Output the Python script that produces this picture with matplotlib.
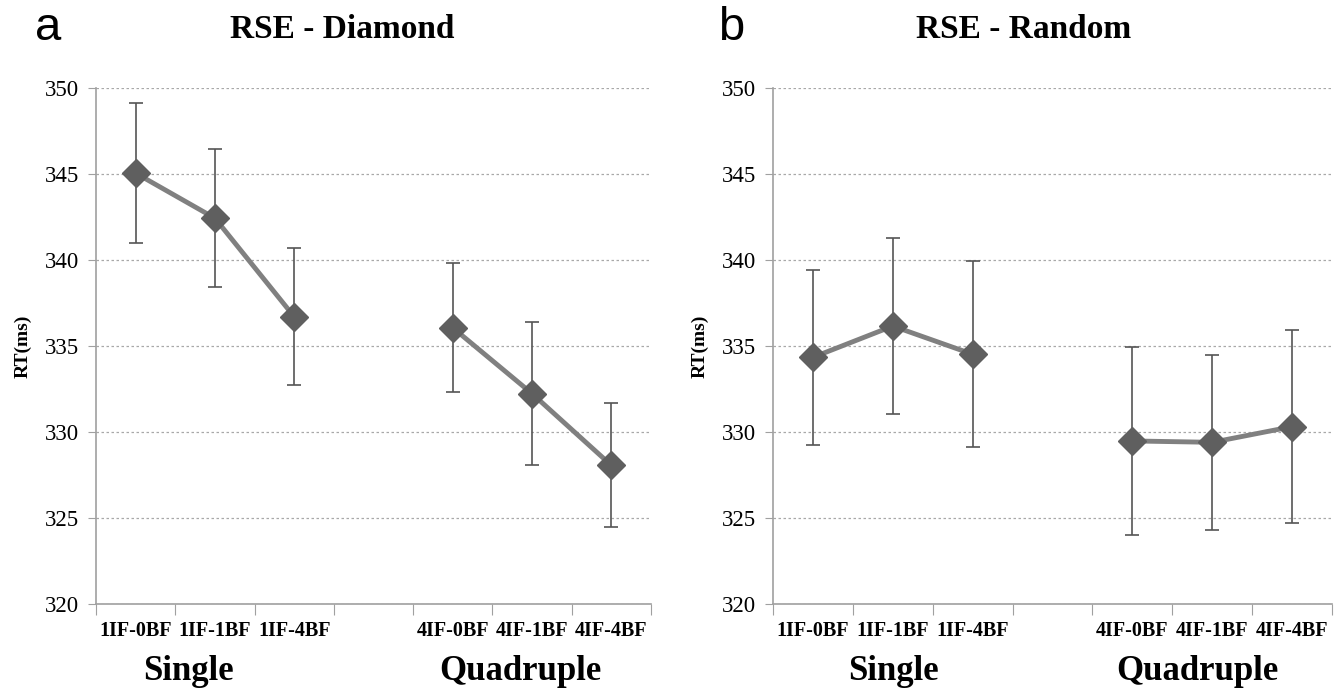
import matplotlib
matplotlib.use("Agg")
import matplotlib.pyplot as plt

# conditions and group labels
conditions_single = ["1IF-0BF", "1IF-1BF", "1IF-4BF"]
conditions_quad = ["4IF-0BF", "4IF-1BF", "4IF-4BF"]
groups = ["Single", "Quadruple"]

# RT means and error half-widths (ms)
diamond_rt = [345.05, 342.43, 336.7, 336.06, 332.23, 328.06]
diamond_err = [4.05, 4.0, 3.97, 3.75, 4.15, 3.6]
random_rt = [334.34, 336.16, 334.52, 329.48, 329.40, 330.31]
random_err = [5.1, 5.1, 5.4, 5.45, 5.1, 5.6]

titles = ["RSE - Diamond", "RSE - Random"]
panel_letters = ["a", "b"]
yticks = [320, 325, 330, 335, 340, 345, 350]

SERIF = ["Liberation Serif", "DejaVu Serif"]
SANS = ["Liberation Sans Narrow", "Liberation Sans", "DejaVu Sans"]

W, H = 1341, 696
fig = plt.figure(figsize=(W / 100, H / 100), dpi=100)

panels = [
    dict(left=96, right=651, rt=diamond_rt, err=diamond_err, title_x=342,
         letter_x=48, group_x=[188, 520]),
    dict(left=773, right=1332, rt=random_rt, err=random_err, title_x=1024,
         letter_x=731, group_x=[893, 1197]),
]

# slot positions: three conditions, one empty slot, three conditions
xs = [0.5, 1.5, 2.5, 4.5, 5.5, 6.5]
labels = conditions_single + conditions_quad

for i, p in enumerate(panels):
    ax = fig.add_axes([p["left"] / W, 1 - 604 / H, (p["right"] - p["left"]) / W, (604 - 88) / H])
    ax.set_xlim(0, 7)
    ax.set_ylim(320, 350)

    ax.errorbar(xs, p["rt"], yerr=p["err"], fmt="none", ecolor="#555555",
                elinewidth=1.2, capsize=5, capthick=1.2, zorder=3)
    for sl in (slice(0, 3), slice(3, 6)):
        ax.plot(xs[sl], p["rt"][sl], color="#808080", lw=3.5, zorder=4,
                marker="D", ms=14, mfc="#5f5f5f", mec="#5f5f5f")

    ax.set_yticks(yticks)
    ax.set_yticklabels([str(v) for v in yticks], family=SERIF, fontsize=16.5)
    ax.set_xticks(range(8))
    ax.set_xticklabels([])
    ax.set_xticks(xs, minor=True)
    ax.set_xticklabels(labels, minor=True, family=SERIF, fontsize=14.5, fontweight="bold")
    ax.tick_params(axis="x", which="major", length=8, color="#a0a0a0", direction="out")
    ax.tick_params(axis="x", which="minor", length=0, pad=12)
    ax.tick_params(axis="y", length=6, color="#a0a0a0", pad=6)

    ax.grid(axis="y", linestyle=(0, (2, 2)), color="#a8a8a8", lw=0.9)
    ax.set_axisbelow(True)
    for s in ("top", "right"):
        ax.spines[s].set_visible(False)
    for s in ("left", "bottom"):
        ax.spines[s].set_color("#a0a0a0")
        ax.spines[s].set_linewidth(1.2)

    ax.set_ylabel("RT(ms)", family=SERIF, fontsize=14, fontweight="bold", labelpad=10)

    fig.text(p["title_x"] / W, 1 - 30 / H, titles[i], ha="center", va="center",
             family=SERIF, fontsize=24, fontweight="bold")
    fig.text(p["letter_x"] / W, 1 - 28 / H, panel_letters[i], ha="center", va="center",
             family=SANS, fontsize=34)
    for gx, g in zip(p["group_x"], groups):
        fig.text(gx / W, 1 - 672 / H, g, ha="center", va="center",
                 family=SERIF, fontsize=25, fontweight="bold")

fig.savefig("out.png", dpi=100)
